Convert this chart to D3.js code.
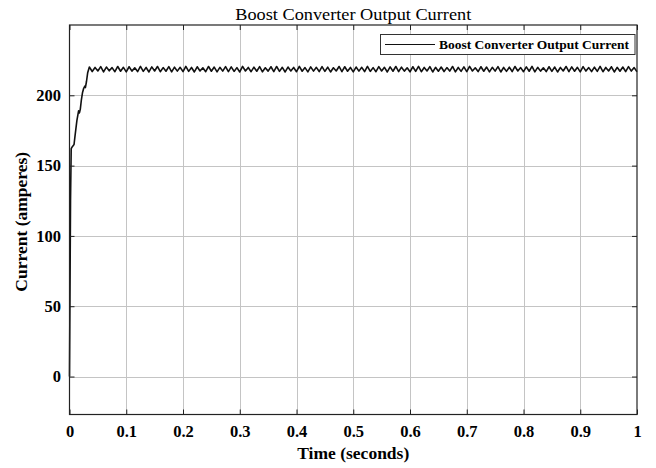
<!DOCTYPE html>
<html><head><meta charset="utf-8">
<script src="https://cdn.jsdelivr.net/npm/d3@7"></script>
<style>body{margin:0;background:#fff}svg{display:block}</style>
</head><body>
<svg id="c" width="656" height="468"></svg>
<script>
// ---- data ----
const chartTitle = "Boost Converter Output Current";
const xLabel = "Time (seconds)";
const yLabel = "Current (amperes)";
const seriesName = "Boost Converter Output Current";
const xTicks = [0, 0.1, 0.2, 0.3, 0.4, 0.5, 0.6, 0.7, 0.8, 0.9, 1];
const xTickLabels = ["0", "0.1", "0.2", "0.3", "0.4", "0.5", "0.6", "0.7", "0.8", "0.9", "1"];
const yTicks = [0, 50, 100, 150, 200];
const yTickLabels = ["0", "50", "100", "150", "200"];
const xDomain = [0, 1];
const yDomain = [-27, 250];

// start-up transient (time s, current A)
const startTime    = [0, 0.0008, 0.0018, 0.003, 0.005, 0.008, 0.010, 0.013, 0.016, 0.0175, 0.019, 0.021, 0.023, 0.025, 0.027, 0.028, 0.030, 0.032];
const startCurrent = [0, 55, 125, 162, 163.5, 165, 172, 182, 189, 187.5, 190, 197, 202, 205, 206.5, 205.5, 210, 216];

// steady-state ripple, sampled every 5 ms from t = 0.035 s
const rippleStart = 0.035;
const rippleStep = 0.005;
const rippleCurrent = [
220.1,216.9,219.8,217.3,220.4,216.6,220.1,217.4,219.7,216.8,
220.5,217.1,219.9,216.7,220.3,217.2,219.6,216.9,220.6,217.0,
219.8,216.6,220.2,217.3,220.5,216.8,219.7,217.1,220.4,216.7,
220.0,217.2,219.9,216.9,220.6,217.0,219.8,216.6,220.3,217.3,
219.6,216.8,220.5,217.1,220.1,216.7,219.9,217.2,220.4,216.9,
220.2,217.0,219.7,216.6,220.6,217.3,219.8,216.8,220.0,217.1,
220.4,216.7,219.6,217.2,220.3,216.9,220.5,217.0,219.9,216.6,
220.1,217.3,219.8,216.8,220.6,217.1,219.7,216.7,220.2,217.2,
219.9,216.9,220.4,217.0,220.0,216.6,219.6,217.3,220.5,216.8,
220.3,217.1,219.8,216.7,220.1,217.2,219.9,216.9,220.6,217.0,
219.7,216.8,220.4,217.3,219.9,216.6,220.2,217.1,220.5,216.9,
220.0,217.2,219.6,216.7,220.3,217.0,220.6,216.8,219.8,217.3,
220.4,216.6,219.9,217.1,220.1,216.9,219.7,217.2,220.5,216.7,
219.8,217.0,220.2,216.8,220.6,217.3,219.6,216.9,220.3,217.1,
220.1,216.7,219.9,217.2,220.4,216.6,219.8,217.0,220.0,216.9,
220.5,217.3,219.7,216.8,220.2,217.1,220.6,216.7,219.9,217.2,
219.6,216.9,220.3,217.0,220.1,216.6,219.8,217.3,220.5,216.8,
220.2,217.1,219.9,216.7,220.4,217.2,219.7,216.9,220.0,217.0,
220.6,216.8,219.8,217.3,220.3,216.6,219.9,217.1,220.1,216.9,
220.4,217.2,219.7,216.8
];

// ---- build series ----
const series = startTime.map((t, i) => ({t, v: startCurrent[i]}))
  .concat(rippleCurrent.map((v, i) => ({t: rippleStart + i * rippleStep, v})))
  .filter(d => d.t <= 1.0000001);

// ---- layout ----
const svg = d3.select("#c");
const L = 69.5, R = 637, T = 25, B = 414.5;
const x = d3.scaleLinear().domain(xDomain).range([L, R]);
const y = d3.scaleLinear().domain(yDomain).range([B, T]);
const serif = "'Liberation Serif','Times New Roman',serif";

svg.append("rect").attr("width", 656).attr("height", 468).attr("fill", "#fff");
svg.append("rect").attr("x", L).attr("y", T).attr("width", R - L).attr("height", B - T).attr("fill", "#fff");

// grid
const grid = svg.append("g").attr("stroke", "#c4c4c4").attr("stroke-width", 1);
grid.selectAll("line.gx").data(xTicks.slice(1, -1)).join("line")
  .attr("x1", d => Math.round(x(d)) + 0.5).attr("x2", d => Math.round(x(d)) + 0.5)
  .attr("y1", T).attr("y2", B);
grid.selectAll("line.gy").data(yTicks).join("line")
  .attr("y1", d => Math.round(y(d)) + 0.5).attr("y2", d => Math.round(y(d)) + 0.5)
  .attr("x1", L).attr("x2", R);

// data line
const line = d3.line().x(d => x(d.t)).y(d => y(d.v));
svg.append("path").datum(series).attr("d", line)
  .attr("fill", "none").attr("stroke", "#111").attr("stroke-width", 1.6)
  .attr("stroke-linejoin", "round");

// axes
function styleAxis(g, labels) {
  g.select(".domain").remove();
  g.selectAll(".tick line").attr("stroke", "#222");
  g.selectAll("text").attr("font-family", serif).attr("font-weight", "bold")
    .attr("font-size", 16.5).attr("fill", "#000");
  if (!labels) g.selectAll("text").remove();
}
svg.append("g").attr("transform", `translate(0,${B})`)
  .call(d3.axisBottom(x).tickValues(xTicks).tickFormat((d, i) => xTickLabels[i]).tickSizeInner(-5).tickSizeOuter(0).tickPadding(11))
  .call(g => styleAxis(g, true));
svg.append("g").attr("transform", `translate(0,${T})`)
  .call(d3.axisTop(x).tickValues(xTicks).tickSizeInner(-5).tickSizeOuter(0))
  .call(g => styleAxis(g, false));
svg.append("g").attr("transform", `translate(${L},0)`)
  .call(d3.axisLeft(y).tickValues(yTicks).tickFormat((d, i) => yTickLabels[i]).tickSizeInner(-5).tickSizeOuter(0).tickPadding(8.5))
  .call(g => styleAxis(g, true));
svg.append("g").attr("transform", `translate(${R},0)`)
  .call(d3.axisRight(y).tickValues(yTicks).tickSizeInner(-5).tickSizeOuter(0))
  .call(g => styleAxis(g, false));

// box
svg.append("rect").attr("x", L).attr("y", T).attr("width", R - L).attr("height", B - T)
  .attr("fill", "none").attr("stroke", "#222").attr("stroke-width", 1.2);

// title & labels
svg.append("text").attr("x", (L + R) / 2).attr("y", 19.5).attr("text-anchor", "middle")
  .attr("font-family", serif).attr("font-size", 17.5).attr("fill", "#000")
  .attr("textLength", 236).attr("lengthAdjust", "spacingAndGlyphs").text(chartTitle);
svg.append("text").attr("x", (L + R) / 2).attr("y", 459).attr("text-anchor", "middle")
  .attr("font-family", serif).attr("font-weight", "bold").attr("font-size", 17.5).attr("fill", "#000").text(xLabel);
svg.append("text").attr("transform", `translate(27,${(T + B) / 2 + 2}) rotate(-90)`).attr("text-anchor", "middle")
  .attr("font-family", serif).attr("font-weight", "bold").attr("font-size", 17.5).attr("fill", "#000").text(yLabel);

// legend
const lg = svg.append("g");
lg.append("rect").attr("x", 380.5).attr("y", 34.5).attr("width", 254.5).attr("height", 20)
  .attr("fill", "#fff").attr("stroke", "#333").attr("stroke-width", 1);
lg.append("line").attr("x1", 385).attr("x2", 435).attr("y1", 44.5).attr("y2", 44.5)
  .attr("stroke", "#111").attr("stroke-width", 1.2);
lg.append("text").attr("x", 439).attr("y", 48.5).attr("font-family", serif).attr("font-weight", "bold")
  .attr("font-size", 12).attr("fill", "#000").attr("textLength", 190).attr("lengthAdjust", "spacingAndGlyphs").text(seriesName);
</script>
</body></html>
